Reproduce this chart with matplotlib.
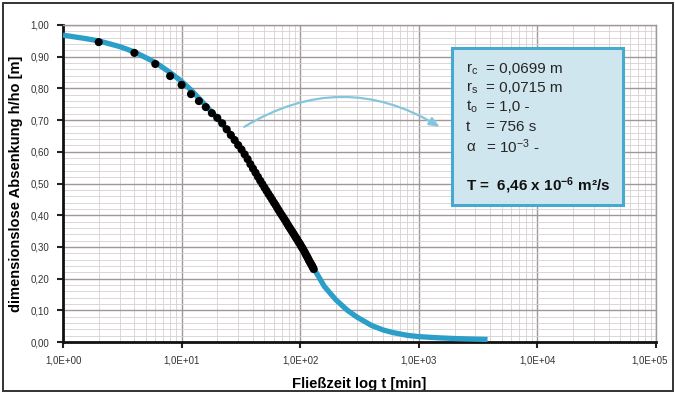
import matplotlib
matplotlib.use("Agg")
import matplotlib.pyplot as plt
import matplotlib.transforms as mtransforms
from matplotlib.ticker import FixedLocator, MultipleLocator, FuncFormatter, NullFormatter
from matplotlib.patches import Rectangle, FancyArrowPatch

plt.rcParams['font.family'] = ['Liberation Sans', 'DejaVu Sans']
plt.rcParams['mathtext.fontset'] = 'custom'
plt.rcParams['mathtext.rm'] = 'Liberation Sans'
plt.rcParams['mathtext.it'] = 'Liberation Sans:italic'
plt.rcParams['mathtext.bf'] = 'Liberation Sans:bold'

# Measured drawdown (time in minutes, normalised head h/h0)
t_meas = [2, 4, 6, 8, 10, 12, 14, 16, 18, 20, 22, 24, 26, 28, 30, 32, 34, 36, 38,
          40, 42, 44, 46, 48, 50, 52, 54, 56, 58, 60, 62, 64, 66, 68, 70, 72, 74,
          76, 78, 80, 82, 84, 86, 88, 90, 92, 94, 96, 98, 100, 102, 104, 106, 108,
          110, 112, 114, 116, 118, 120, 122, 124, 126, 128, 130]
h_meas = [0.946, 0.912, 0.877, 0.839, 0.811, 0.782, 0.760, 0.741, 0.722, 0.707,
          0.690, 0.671, 0.653, 0.637, 0.621, 0.607, 0.592, 0.577, 0.561, 0.547,
          0.534, 0.521, 0.509, 0.498, 0.487, 0.477, 0.467, 0.458, 0.449, 0.440,
          0.432, 0.423, 0.415, 0.407, 0.400, 0.393, 0.386, 0.379, 0.372, 0.365,
          0.359, 0.353, 0.347, 0.341, 0.335, 0.329, 0.324, 0.318, 0.313, 0.308,
          0.302, 0.297, 0.292, 0.286, 0.281, 0.275, 0.270, 0.265, 0.259, 0.254,
          0.249, 0.245, 0.240, 0.235, 0.230]

# Fitted type curve
t_fit = [1, 1.5, 2, 3, 4, 6, 8, 10, 12, 15, 20, 25, 30, 40, 50, 60, 70, 80, 100,
         120, 134, 160, 200, 250, 300, 400, 500, 600, 800, 1000, 1500, 2000, 3000, 3800]
h_fit = [0.968, 0.958, 0.950, 0.932, 0.915, 0.882, 0.850, 0.822, 0.795, 0.757,
         0.706, 0.663, 0.625, 0.550, 0.490, 0.443, 0.404, 0.368, 0.309, 0.258,
         0.224, 0.175, 0.133, 0.100, 0.079, 0.052, 0.038, 0.030, 0.021, 0.017,
         0.013, 0.011, 0.009, 0.008]

x_ticks = [1e0, 1e1, 1e2, 1e3, 1e4, 1e5]
y_ticks = [0.0, 0.1, 0.2, 0.3, 0.4, 0.5, 0.6, 0.7, 0.8, 0.9, 1.0]

W, H = 675, 394
fig = plt.figure(figsize=(W / 100, H / 100), dpi=100)


def fx(px):
    return px / W


def fy(py):
    return 1 - py / H


ax = fig.add_axes([fx(63), fy(342), fx(656) - fx(63), fy(25) - fy(342)])
ax.set_xscale('log')
ax.set_xlim(1, 1e5)
ax.set_ylim(0, 1.0)

ax.xaxis.set_major_locator(FixedLocator(x_ticks))
ax.xaxis.set_minor_locator(FixedLocator([m * 10 ** d for d in range(5) for m in range(2, 10)]))
ax.xaxis.set_minor_formatter(NullFormatter())
ax.xaxis.set_major_formatter(FuncFormatter(lambda v, p: f"{v:.1E}".replace('.', ',')))
ax.yaxis.set_major_locator(FixedLocator(y_ticks))
ax.yaxis.set_minor_locator(MultipleLocator(0.02))
ax.yaxis.set_major_formatter(FuncFormatter(lambda v, p: f"{v:.2f}".replace('.', ',')))

ax.grid(which='major', color='#a09898', linewidth=1.0)
ax.grid(which='minor', color='#d8d0d0', linewidth=0.6)
ax.set_axisbelow(True)

for s in ('top', 'right'):
    ax.spines[s].set_color('#a09898')
    ax.spines[s].set_linewidth(1.0)
for s in ('left', 'bottom'):
    ax.spines[s].set_color('#111111')
    ax.spines[s].set_linewidth(2.0)

ax.tick_params(which='major', length=4, width=1.5, color='#222222',
               labelsize=7, labelcolor='#333333', pad=6)
ax.tick_params(which='minor', length=0)

ax.plot(t_fit, h_fit, color='#2b9fc8', linewidth=3.8, solid_capstyle='butt', zorder=3)
ax.scatter(t_meas, h_meas, s=34, color='black', edgecolors='none', zorder=4)

# curved pointer towards the parameter box
arrow = FancyArrowPatch((32.2, 0.674), (1570, 0.674),
                        connectionstyle='arc3,rad=-0.31',
                        arrowstyle='-|>,head_length=6,head_width=2.5',
                        color='#86c5de', linewidth=1.6, zorder=5)
ax.add_patch(arrow)

ax.set_xlabel('Fließzeit log t [min]', fontsize=10.7, fontweight='bold', labelpad=8)
ax.set_ylabel('dimensionslose Absenkung h/ho [m]', fontsize=10.5, fontweight='bold', labelpad=5)

# keep the last x tick label inside the frame
fig.canvas.draw()
last = ax.get_xticklabels()[-1]
last.set_transform(last.get_transform() +
                   mtransforms.ScaledTranslation(-5 / 72, 0, fig.dpi_scale_trans))

# parameter box
box = Rectangle((fx(452), fy(205)), fx(623) - fx(452), fy(48) - fy(205),
                transform=fig.transFigure, facecolor='#cfe6ee', edgecolor='#47a9d0',
                linewidth=2.2, zorder=10)
fig.patches.append(box)

rows = [
    (r'r$_\mathrm{c}$', '= 0,0699 m', 69),
    (r'r$_\mathrm{s}$', '= 0,0715 m', 88),
    (r't$_\mathrm{o}$', '= 1,0 -', 107),
    ('t', '= 756 s', 127),
    ('α', r'= 10$^{-3}$ -', 147),
]
for lab, val, py in rows:
    fig.text(fx(466), fy(py), lab, fontsize=11, color='#262626', va='center', zorder=11)
    fig.text(fx(486), fy(py), val, fontsize=11, color='#262626', va='center', zorder=11)
fig.text(fx(466), fy(186), r'T =  6,46 x 10$^{\mathbf{-6}}$ m²/s', fontsize=11,
         fontweight='bold', color='#111111', va='center', zorder=11)

# outer frame
frame = Rectangle((fx(3), fy(391)), fx(673) - fx(3), fy(3) - fy(391),
                  transform=fig.transFigure, facecolor='none', edgecolor='#333333',
                  linewidth=1.4, zorder=0)
fig.patches.append(frame)

fig.savefig('out.png', dpi=100)
